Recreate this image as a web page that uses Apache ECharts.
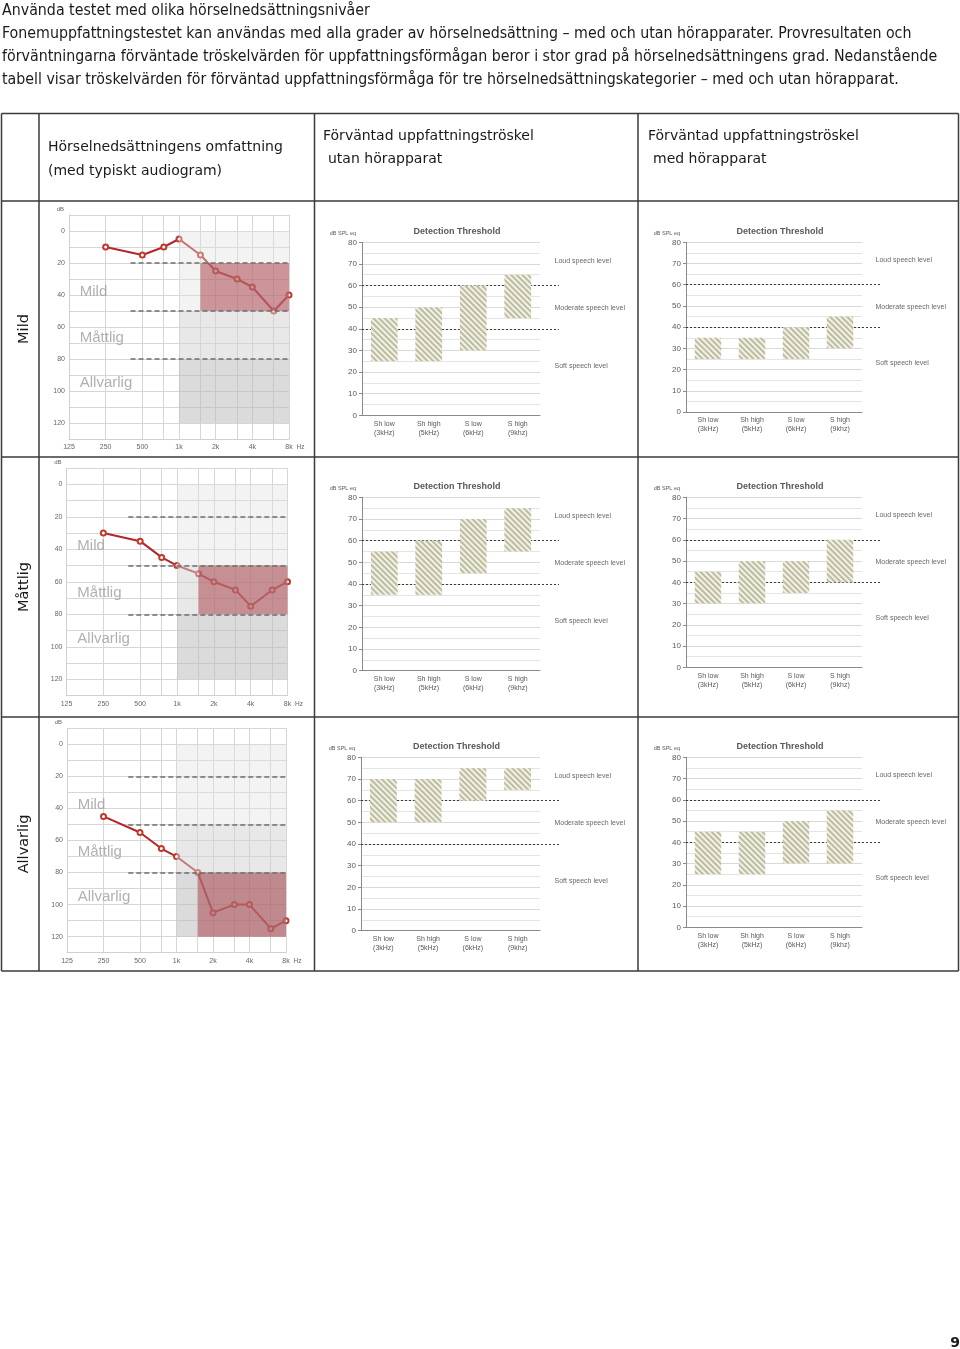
<!DOCTYPE html>
<html>
<head>
<meta charset="utf-8">
<script src="https://cdn.jsdelivr.net/npm/echarts@6/dist/echarts.min.js"></script>
<style>
html, body { margin: 0; padding: 0; background: #fff; }
#page { width: 960px; height: 1349px; }
</style>
</head>
<body>
<div id="page"></div>
<script>
// audiogram: frequencies (Hz) and hearing level (dB HL) per degree of loss
var freqs = [250, 500, 750, 1000, 1500, 2000, 3000, 4000, 6000, 8000];
var freqTicks = ['125', '250', '500', '1k', '2k', '4k', '8k'];
var gridFreqs = [750, 1500, 3000, 6000];
var mildLoss = [10, 15, 10, 5, 15, 25, 30, 35, 50, 40];
var moderateLoss = [30, 35, 45, 50, 55, 60, 65, 75, 65, 60];
var severeLoss = [45, 55, 65, 70, 80, 105, 100, 100, 115, 110];
var lossBands = [[20, 50], [50, 80], [80, 120]];
var levelLines = [20, 50, 80];
var zoneNames = ['Mild', 'Måttlig', 'Allvarlig'];
var zoneDb = [38, 67, 95];

// detection thresholds (dB SPL eq), low and high end of each range
var speechCats = ['Sh low\n(3kHz)', 'Sh high\n(5kHz)', 'S low\n(6kHz)', 'S high\n(9khz)'];
var speechLevels = ['Loud speech level', 'Moderate speech level', 'Soft speech level'];
var speechLevelDb = [71.5, 49.5, 23];
var speechLimits = [40, 60];
var mildWithoutLow = [25, 25, 30, 45];
var mildWithoutHigh = [45, 50, 60, 65];
var mildWithLow = [25, 25, 25, 30];
var mildWithHigh = [35, 35, 40, 45];
var moderateWithoutLow = [35, 35, 45, 55];
var moderateWithoutHigh = [55, 60, 70, 75];
var moderateWithLow = [30, 30, 35, 40];
var moderateWithHigh = [45, 50, 50, 60];
var severeWithoutLow = [50, 50, 60, 65];
var severeWithoutHigh = [70, 70, 75, 75];
var severeWithLow = [25, 25, 30, 30];
var severeWithHigh = [45, 45, 50, 55];

var rowNames = ['Mild', 'Måttlig', 'Allvarlig'];

var option = {animation: false, grid: [], xAxis: [], yAxis: [], series: [], graphic: []};
var sans = '"Liberation Sans", Arial, sans-serif';
var bodyFont = '15.8px "DejaVu Sans Condensed", sans-serif';
var headFont = '14px "DejaVu Sans", sans-serif';

function oct(f) {
    return Math.log(f / 125) / Math.LN2;
}

function text(x, y, s, font, color, align, rot) {
    option.graphic.push({
        type: 'text', x: x, y: y, rotation: rot || 0, silent: true,
        style: {
            text: s, font: font, fill: color || '#1a1a1a',
            align: align || 'left', textAlign: align || 'left',
            verticalAlign: 'middle', textVerticalAlign: 'middle'
        }
    });
}

function rule(x1, y1, x2, y2) {
    option.graphic.push({
        type: 'line', silent: true,
        shape: {x1: x1, y1: y1, x2: x2, y2: y2},
        style: {stroke: '#3a3a3a', lineWidth: 1.5}
    });
}

function addAudiogram(box, loss, hurt) {
    var g = option.grid.length;
    option.grid.push({left: box[0], top: box[1], width: box[2] - box[0], height: box[3] - box[1]});
    option.xAxis.push({
        gridIndex: g, type: 'value', min: 0, max: 6, interval: 1,
        name: 'Hz', nameLocation: 'end', nameGap: 5,
        nameTextStyle: {fontSize: 6.5, color: '#666', verticalAlign: 'top', padding: [5, 0, 0, 0]},
        axisLine: {onZero: false, lineStyle: {color: '#d0d0d0'}},
        axisTick: {show: false},
        axisLabel: {fontSize: 7, color: '#666', margin: 5, showMinLabel: true, showMaxLabel: true,
            formatter: function (v) { return freqTicks[v]; }},
        splitLine: {lineStyle: {color: '#d6d6d6'}}
    });
    option.yAxis.push({
        gridIndex: g, type: 'value', inverse: true, min: -10, max: 130, interval: 10,
        name: 'dB', nameLocation: 'start', nameGap: 3,
        nameTextStyle: {fontSize: 6, color: '#666', align: 'right', padding: [0, 5, 0, 0]},
        axisLine: {show: true, lineStyle: {color: '#d0d0d0'}},
        axisTick: {show: false},
        axisLabel: {fontSize: 7, color: '#666', margin: 4,
            formatter: function (v) { return (v % 20 === 0 && v >= 0 && v <= 120) ? v : ''; }},
        splitLine: {lineStyle: {color: '#d6d6d6'}}
    });
    option.series.push({
        type: 'line', xAxisIndex: g, yAxisIndex: g, z: 2,
        data: freqs.map(function (f, i) { return [oct(f), loss[i]]; }),
        symbol: 'emptyCircle', symbolSize: 5,
        lineStyle: {color: '#b3262b', width: 2},
        itemStyle: {color: '#c0392b', borderWidth: 1.2},
        markArea: {
            silent: true, z: 3,
            data: [
                [{coord: [oct(1000), 0], itemStyle: {color: 'rgba(225,225,225,0.4)'}}, {coord: [6, lossBands[0][1]]}],
                [{coord: [oct(1000), lossBands[1][0]], itemStyle: {color: 'rgba(210,210,210,0.5)'}}, {coord: [6, lossBands[1][1]]}],
                [{coord: [oct(1000), lossBands[2][0]], itemStyle: {color: 'rgba(190,190,190,0.55)'}}, {coord: [6, lossBands[2][1]]}],
                [{coord: [oct(1500), hurt[0]], itemStyle: {color: 'rgba(165,55,65,0.5)'}}, {coord: [6, hurt[1]]}]
            ]
        },
        markLine: {
            silent: true, symbol: 'none', z: 4, label: {show: false},
            lineStyle: {color: '#6e6e6e', type: [5, 3], width: 1.6},
            data: levelLines.map(function (v) { return [{coord: [oct(400), v]}, {coord: [6, v]}]; })
        }
    });
    // zone names and the in-between frequency lines
    option.series.push({
        type: 'scatter', xAxisIndex: g, yAxisIndex: g, z: 5, silent: true,
        symbolSize: 1, itemStyle: {color: 'rgba(0,0,0,0)'},
        data: zoneNames.map(function (n, i) { return [0.28, zoneDb[i], n]; }),
        label: {show: true, position: 'right', distance: 0, fontSize: 15, fontFamily: sans, color: '#9c9c9c',
            formatter: function (p) { return p.data[2]; }},
        markLine: {
            silent: true, symbol: 'none', z: 1, label: {show: false},
            lineStyle: {color: '#d6d6d6', type: 'solid', width: 1},
            data: gridFreqs.map(function (f) { return {xAxis: oct(f)}; })
        }
    });
}

function addThreshold(box, lineEnd, low, high) {
    var g = option.grid.length;
    var h = box[3] - box[1];
    option.grid.push({left: box[0], top: box[1], width: box[2] - box[0], height: h});
    option.xAxis.push({
        gridIndex: g, type: 'category', data: speechCats,
        axisLine: {lineStyle: {color: '#8a8a8a'}},
        axisTick: {show: false},
        axisLabel: {fontSize: 7, lineHeight: 9, color: '#595959', margin: 4, interval: 0}
    });
    option.yAxis.push({
        gridIndex: g, type: 'value', min: 0, max: 80, interval: 10,
        name: 'dB SPL eq', nameLocation: 'end', nameGap: 6,
        nameTextStyle: {fontSize: 5.5, color: '#595959', align: 'right', padding: [0, 6, 0, 0]},
        axisLine: {show: true, lineStyle: {color: '#8a8a8a'}},
        axisTick: {show: true, length: 3, lineStyle: {color: '#8a8a8a'}},
        axisLabel: {fontSize: 8, color: '#595959', margin: 5},
        splitLine: {lineStyle: {color: '#d9d9d9'}},
        minorTick: {show: false, splitNumber: 2},
        minorSplitLine: {show: true, lineStyle: {color: '#e4e4e4'}}
    });
    option.series.push({
        type: 'bar', xAxisIndex: g, yAxisIndex: g, stack: 'r' + g, z: 2, silent: true,
        barWidth: '60%', data: low, itemStyle: {color: 'rgba(0,0,0,0)'}
    });
    option.series.push({
        type: 'bar', xAxisIndex: g, yAxisIndex: g, stack: 'r' + g, z: 2, silent: true,
        barWidth: '60%',
        data: high.map(function (v, i) { return v - low[i]; }),
        itemStyle: {
            color: '#f2f1e7',
            decal: {symbol: 'rect', symbolSize: 1, color: '#bebc9f',
                dashArrayX: [1, 0], dashArrayY: [1.6, 1.6], rotation: Math.PI / 4}
        }
    });
    // wider overlay grid for the speech level limits and their names
    var o = option.grid.length;
    option.grid.push({left: box[0], top: box[1], width: lineEnd - box[0], height: h});
    option.xAxis.push({gridIndex: o, type: 'value', min: 0, max: 1, show: false});
    option.yAxis.push({gridIndex: o, type: 'value', min: 0, max: 80, show: false});
    option.series.push({
        type: 'scatter', xAxisIndex: o, yAxisIndex: o, z: 1, silent: true,
        symbolSize: 1, itemStyle: {color: 'rgba(0,0,0,0)'},
        data: speechLevels.map(function (n, i) { return [1, speechLevelDb[i], n]; }),
        label: {show: true, position: 'right', distance: 0, offset: [-5, 0], fontSize: 7, color: '#404040',
            formatter: function (p) { return p.data[2]; }},
        markLine: {
            silent: true, symbol: 'none', z: 1, label: {show: false},
            lineStyle: {color: '#3c3c3c', type: [2, 2], width: 1},
            data: speechLimits.map(function (v) { return {yAxis: v}; })
        }
    });
    text((box[0] + box[2]) / 2 + 6, box[1] - 11, 'Detection Threshold', 'bold 9px ' + sans, '#595959', 'center');
}

// page text
text(2, 11, 'Använda testet med olika hörselnedsättningsnivåer', bodyFont);
text(2, 34, 'Fonemuppfattningstestet kan användas med alla grader av hörselnedsättning – med och utan hörapparater. Provresultaten och', bodyFont);
text(2, 57, 'förväntningarna förväntade tröskelvärden för uppfattningsförmågan beror i stor grad på hörselnedsättningens grad. Nedanstående', bodyFont);
text(2, 80, 'tabell visar tröskelvärden för förväntad uppfattningsförmåga för tre hörselnedsättningskategorier – med och utan hörapparat.', bodyFont);

// table
var colX = [1.5, 39, 314.5, 638, 958.5];
var rowY = [113.5, 201, 457, 717, 971];
colX.forEach(function (x) { rule(x, rowY[0], x, rowY[4]); });
rowY.forEach(function (y) { rule(colX[0], y, colX[4], y); });

text(48, 147, 'Hörselnedsättningens omfattning', headFont);
text(48, 171, '(med typiskt audiogram)', headFont);
text(323, 136, 'Förväntad uppfattningströskel', headFont);
text(328, 159, 'utan hörapparat', headFont);
text(648, 136, 'Förväntad uppfattningströskel', headFont);
text(653, 159, 'med hörapparat', headFont);
rowNames.forEach(function (n, i) {
    text(24, (rowY[i + 1] + rowY[i + 2]) / 2, n, '14.5px "DejaVu Sans", sans-serif', '#1a1a1a', 'center', Math.PI / 2);
});
text(955, 1343, '9', 'bold 14px "DejaVu Sans", sans-serif', '#1a1a1a', 'center');

addAudiogram([69, 215, 289, 439], mildLoss, lossBands[0]);
addAudiogram([66.5, 468, 287.5, 695.6], moderateLoss, lossBands[1]);
addAudiogram([67, 728.3, 286, 952.7], severeLoss, lossBands[2]);

addThreshold([362, 242.3, 540, 415.3], 559, mildWithoutLow, mildWithoutHigh);
addThreshold([686, 242.3, 862, 412], 880, mildWithLow, mildWithHigh);
addThreshold([362, 497.3, 540, 670.7], 559, moderateWithoutLow, moderateWithoutHigh);
addThreshold([686, 497.3, 862, 667.3], 880, moderateWithLow, moderateWithHigh);
addThreshold([361, 757.3, 540, 930.7], 559, severeWithoutLow, severeWithoutHigh);
addThreshold([686, 757.3, 862, 927.3], 880, severeWithLow, severeWithHigh);

var chart = echarts.init(document.getElementById('page'));
chart.setOption(option);
</script>
</body>
</html>
